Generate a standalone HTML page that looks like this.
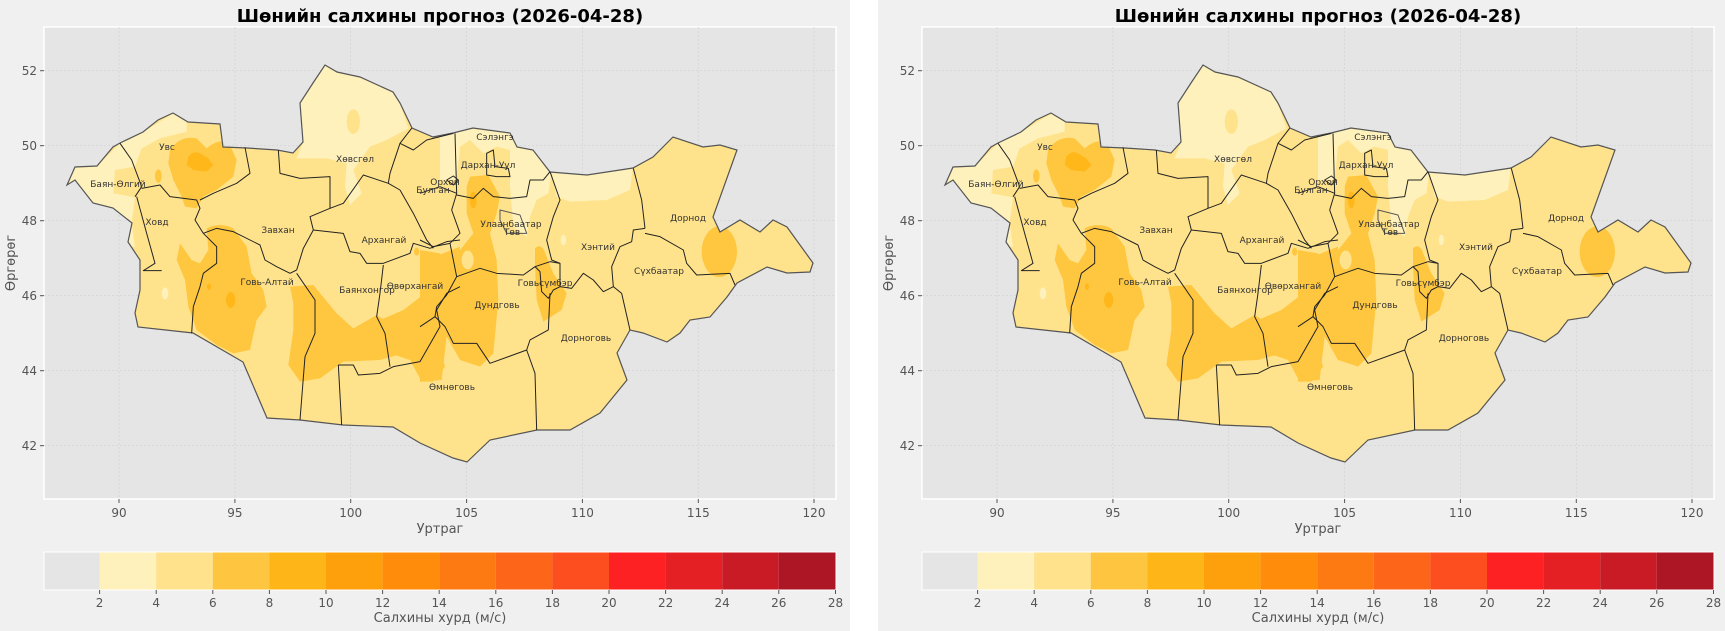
<!DOCTYPE html>
<html><head><meta charset="utf-8"><style>
html,body{margin:0;padding:0;background:#fff;}
svg{display:block;}
text{font-family:"DejaVu Sans","Liberation Sans",sans-serif;}
</style></head><body>
<svg width="1725" height="631" viewBox="0 0 1725 631" xmlns="http://www.w3.org/2000/svg" xmlns:xlink="http://www.w3.org/1999/xlink">
<defs>
<clipPath id="mn" clipPathUnits="userSpaceOnUse">
<polygon id="outlinePts" points="67,185 75,167 97,166 113,147 120,143 143,132 158,120 173,113 188,122 220,124 223,147 247,148 277,150 293,153 303,142 300,103 313,83 325,65 337,72 360,77 393,92 400,103 412,128 433,137 453,133 473,128 510,133 517,147 533,150 550,172 587,175 633,168 653,157 673,137 703,147 720,145 737,150 713,217 720,232 740,220 760,232 773,220 787,227 813,263 810,272 787,273 767,267 737,283 727,297 710,317 690,320 680,333 667,342 643,333 630,330 617,353 627,380 600,413 570,430 537,430 490,440 467,462 453,458 420,443 393,427 343,425 300,420 267,418 243,362 193,333 138,327 135,313 140,290 140,260 128,242 132,223 113,208 93,203 75,180"/>
</clipPath>
<g id="panel">
<rect x="0" y="0" width="850" height="631" fill="#f0f0f0"/>
<rect x="44" y="27" width="792" height="472" fill="#e5e5e5" stroke="#fff" stroke-width="1.5"/>
<g stroke="#d2d2d2" stroke-width="0.7" stroke-dasharray="2,2">
<line x1="119" y1="27" x2="119" y2="499"/><line x1="234.9" y1="27" x2="234.9" y2="499"/><line x1="350.7" y1="27" x2="350.7" y2="499"/><line x1="466.6" y1="27" x2="466.6" y2="499"/><line x1="582.4" y1="27" x2="582.4" y2="499"/><line x1="698.3" y1="27" x2="698.3" y2="499"/><line x1="814" y1="27" x2="814" y2="499"/>
<line x1="44" y1="70.7" x2="836" y2="70.7"/><line x1="44" y1="145.7" x2="836" y2="145.7"/><line x1="44" y1="220.7" x2="836" y2="220.7"/><line x1="44" y1="295.7" x2="836" y2="295.7"/><line x1="44" y1="370.7" x2="836" y2="370.7"/><line x1="44" y1="445.7" x2="836" y2="445.7"/>
</g>
<g clip-path="url(#mn)">
<rect x="40" y="40" width="800" height="450" fill="#ffe38c"/>
<g transform="translate(60,60) scale(0.33333)">
<path fill="#fff1bb" d="M22,375 L45,320 110,318 180,250 250,215 300,185 340,160 380,185 380,215 300,235 245,265 225,320 165,330 160,400 225,412 215,490 225,560 200,560 150,470 60,420 0,400Z"/>
<path fill="#fff1bb" d="M720,130 L760,70 795,15 830,35 900,50 1000,95 1020,130 1045,205 980,240 930,260 880,330 905,400 870,435 855,380 860,310 800,295 710,295 730,245Z"/>
<ellipse cx="880" cy="185" rx="20" ry="37" fill="#ffe38c"/>
<ellipse cx="315" cy="700" rx="10" ry="18" fill="#fff1bb"/>
<path fill="#ffc740" d="M330,270 Q360,225 410,235 L440,265 Q480,230 510,255 L530,300 520,350 470,390 430,410 410,445 375,440 365,410 340,360 325,310Z"/>
<ellipse cx="295" cy="348" rx="10" ry="20" fill="#ffc740"/>
<path fill="#ffb71a" d="M385,290 Q400,270 420,280 L445,295 460,315 440,335 400,330 380,315Z"/>
<path fill="#ffc740" d="M440,505 Q480,485 520,505 L560,560 575,640 610,690 620,740 590,780 570,870 520,880 470,855 410,810 385,740 375,660 350,600 360,550 395,600 420,610 445,570Z"/>
<ellipse cx="512" cy="720" rx="14" ry="24" fill="#ffb71a"/>
<ellipse cx="447" cy="680" rx="6" ry="10" fill="#ffb71a"/>
<path fill="#ffc740" d="M690,680 L760,675 830,760 880,805 950,765 990,790 1030,880 960,900 850,905 780,955 720,965 685,915 700,810 700,730Z"/>
<path fill="#ffc740" d="M1100,600 L1200,560 1200,900 1160,830 1145,960 1085,965 1050,900 990,880 960,780 1030,750 1095,700Z"/>
<ellipse cx="1070" cy="575" rx="8" ry="12" fill="#ffc740"/>
</g>
<g transform="translate(420,100) scale(0.33333)">
<path fill="#fff1bb" d="M60,80 L270,95 300,145 345,150 395,215 385,280 350,300 330,350 320,410 280,380 270,260 270,150 230,140 190,160 150,120 120,140 110,240 60,240Z"/>
<path fill="#fff1bb" d="M390,190 L640,190 630,270 560,300 450,305 410,290Z"/>
<ellipse cx="430" cy="420" rx="8" ry="16" fill="#fff1bb"/>
<path fill="#ffc740" d="M150,230 L205,225 240,290 230,340 210,400 230,480 235,600 220,760 180,800 120,780 105,720 60,700 45,640 50,560 90,510 120,450 160,400 140,340 140,260Z"/>
<ellipse cx="160" cy="300" rx="10" ry="25" fill="#ffb71a"/>
<ellipse cx="143" cy="480" rx="18" ry="28" fill="#ffe38c"/>
<path fill="#ffc740" d="M0,450 L60,460 100,540 80,600 50,700 75,800 40,845 0,845Z"/>
<path fill="#ffc740" d="M345,445 Q360,430 372,450 L400,520 440,580 425,630 370,665 350,600 345,500Z"/>
<ellipse cx="898" cy="455" rx="53" ry="76" fill="#ffc740"/>
</g>
</g>
<use xlink:href="#outlinePts" fill="none" stroke="#555" stroke-width="1.2"/>
<g fill="none" stroke="#222" stroke-width="1" stroke-linejoin="round">
<g transform="translate(60,60) scale(0.33333)">
<polyline vector-effect="non-scaling-stroke" points="180,250 215,300 245,380 225,410"/>
<polyline vector-effect="non-scaling-stroke" points="230,410 260,520 285,610 250,632 305,632"/>
<polyline vector-effect="non-scaling-stroke" points="245,385 300,375 330,410 410,420 420,445 405,480 430,520"/>
<polyline vector-effect="non-scaling-stroke" points="420,420 460,400 530,370 570,340 555,262"/>
<polyline vector-effect="non-scaling-stroke" points="430,520 470,560 470,610 430,640 420,680 400,740 395,820"/>
<polyline vector-effect="non-scaling-stroke" points="430,520 470,505 520,515 600,555 615,600 650,620 690,640 710,630"/>
<polyline vector-effect="non-scaling-stroke" points="655,270 660,340 720,355 810,350 810,445 850,430 910,345 940,355 985,370 990,340 1020,250 1055,205"/>
<polyline vector-effect="non-scaling-stroke" points="810,445 750,470 760,510 730,565 710,630"/>
<polyline vector-effect="non-scaling-stroke" points="710,640 765,720 765,820 735,890 720,1080"/>
<polyline vector-effect="non-scaling-stroke" points="760,510 850,520 870,575 900,580 920,610 970,610 1050,580 1060,550 1110,565 1160,545 1200,540"/>
<polyline vector-effect="non-scaling-stroke" points="970,615 960,700 950,770 975,820 990,920"/>
<polyline vector-effect="non-scaling-stroke" points="835,915 845,1095"/>
<polyline vector-effect="non-scaling-stroke" points="835,915 880,915 895,945 960,940 1000,920 1080,905 1140,800 1130,750 1160,700 1200,680"/>
<polyline vector-effect="non-scaling-stroke" points="985,370 1020,390 1060,460 1100,540 1120,565"/>
<polyline vector-effect="non-scaling-stroke" points="1020,250 1060,270 1100,240 1180,220"/>
</g>
<g transform="translate(420,100) scale(0.33333)">
<polyline vector-effect="non-scaling-stroke" points="105,100 110,280 95,330 120,400 90,430 110,530"/>
<polyline vector-effect="non-scaling-stroke" points="0,280 60,260 110,280"/>
<polyline vector-effect="non-scaling-stroke" points="0,420 40,440 90,430"/>
<polyline vector-effect="non-scaling-stroke" points="110,285 160,295 190,265 220,290 270,295 320,290 330,240 370,240 390,215"/>
<polyline vector-effect="non-scaling-stroke" points="390,215 420,300 400,350 380,420 395,480 420,490"/>
<polyline vector-effect="non-scaling-stroke" points="110,530 180,505 230,520 310,525 345,500 390,485"/>
<polyline vector-effect="non-scaling-stroke" points="345,500 360,515 365,575 385,595 400,570 420,560 420,490 390,485"/>
<polyline vector-effect="non-scaling-stroke" points="390,580 385,690 330,720 320,750"/>
<polyline vector-effect="non-scaling-stroke" points="320,750 210,790 170,730 100,730 75,680 45,650 50,620 80,585 110,530"/>
<polyline vector-effect="non-scaling-stroke" points="45,650 0,680"/>
<polyline vector-effect="non-scaling-stroke" points="320,750 345,820 350,990"/>
<polyline vector-effect="non-scaling-stroke" points="420,560 455,565 490,520 520,540 550,575 580,560"/>
<polyline vector-effect="non-scaling-stroke" points="580,560 575,500 600,440 635,425 640,390 675,385"/>
<polyline vector-effect="non-scaling-stroke" points="640,205 665,300 675,385"/>
<polyline vector-effect="non-scaling-stroke" points="675,400 720,410 790,450 800,490 830,525 930,520 945,555"/>
<polyline vector-effect="non-scaling-stroke" points="580,560 605,580 630,690"/>
<polygon vector-effect="non-scaling-stroke" points="200,160 220,150 225,200 265,205 270,230 230,230 200,225"/>
<polygon vector-effect="non-scaling-stroke" stroke="#555" points="240,330 300,345 320,400 260,400 240,360"/>
<polygon vector-effect="non-scaling-stroke" points="80,240 100,228 115,240 100,255"/>
</g>
</g>
<g font-size="9" fill="#333" text-anchor="middle">
<text x="167" y="150">Увс</text><text x="118" y="187">Баян-Өлгий</text><text x="157" y="225">Ховд</text><text x="278" y="233">Завхан</text><text x="267" y="285">Говь-Алтай</text><text x="355" y="162">Хөвсгөл</text><text x="433" y="193">Булган</text><text x="384" y="243">Архангай</text><text x="367" y="293">Баянхонгор</text><text x="415" y="289">Өвөрхангай</text><text x="452" y="390">Өмнөговь</text>
<text x="495" y="140">Сэлэнгэ</text><text x="488" y="168">Дархан-Уул</text><text x="445" y="185">Орхон</text><text x="511" y="227">Улаанбаатар</text><text x="512" y="235">Төв</text><text x="497" y="308">Дундговь</text><text x="545" y="286">Говьсүмбэр</text><text x="598" y="250">Хэнтий</text><text x="659" y="274">Сүхбаатар</text><text x="688" y="221">Дорнод</text><text x="586" y="341">Дорноговь</text>
</g>
<g stroke="#555" stroke-width="1">
<line x1="40" y1="70.7" x2="44" y2="70.7"/><line x1="40" y1="145.7" x2="44" y2="145.7"/><line x1="40" y1="220.7" x2="44" y2="220.7"/><line x1="40" y1="295.7" x2="44" y2="295.7"/><line x1="40" y1="370.7" x2="44" y2="370.7"/><line x1="40" y1="445.7" x2="44" y2="445.7"/>
<line x1="119" y1="499" x2="119" y2="503"/><line x1="234.9" y1="499" x2="234.9" y2="503"/><line x1="350.7" y1="499" x2="350.7" y2="503"/><line x1="466.6" y1="499" x2="466.6" y2="503"/><line x1="582.4" y1="499" x2="582.4" y2="503"/><line x1="698.3" y1="499" x2="698.3" y2="503"/><line x1="814" y1="499" x2="814" y2="503"/>
</g>
<g font-size="12" fill="#555" text-anchor="end">
<text x="37" y="75">52</text><text x="37" y="150">50</text><text x="37" y="225">48</text><text x="37" y="300">46</text><text x="37" y="375">44</text><text x="37" y="450">42</text>
</g>
<g font-size="12" fill="#555" text-anchor="middle">
<text x="119" y="517">90</text><text x="234.9" y="517">95</text><text x="350.7" y="517">100</text><text x="466.6" y="517">105</text><text x="582.4" y="517">110</text><text x="698.3" y="517">115</text><text x="814" y="517">120</text>
</g>
<text x="440" y="533" font-size="13" fill="#555" text-anchor="middle">Уртраг</text>
<text transform="translate(15,263) rotate(-90)" font-size="13" fill="#555" text-anchor="middle">Өргөрөг</text>
<text x="440" y="22" font-size="18" font-weight="bold" fill="#000" text-anchor="middle">Шөнийн салхины прогноз (2026-04-28)</text>
<g>
<rect x="44" y="552" width="55.6" height="38" fill="#e5e5e5"/>
<rect x="99.6" y="552" width="56.6" height="38" fill="#fff1bb"/>
<rect x="156.2" y="552" width="56.6" height="38" fill="#ffe28b"/>
<rect x="212.8" y="552" width="56.6" height="38" fill="#fec540"/>
<rect x="269.4" y="552" width="56.6" height="38" fill="#feb517"/>
<rect x="326" y="552" width="56.6" height="38" fill="#fea00c"/>
<rect x="382.6" y="552" width="56.6" height="38" fill="#ff8c0a"/>
<rect x="439.2" y="552" width="56.6" height="38" fill="#fd7912"/>
<rect x="495.8" y="552" width="56.6" height="38" fill="#fd6518"/>
<rect x="552.4" y="552" width="56.6" height="38" fill="#fc4e1e"/>
<rect x="609" y="552" width="56.6" height="38" fill="#fd2124"/>
<rect x="665.6" y="552" width="56.6" height="38" fill="#e52024"/>
<rect x="722.2" y="552" width="56.6" height="38" fill="#c91b25"/>
<rect x="778.8" y="552" width="57.2" height="38" fill="#ac1625"/>
<rect x="44" y="552" width="792" height="38" fill="none" stroke="#fff" stroke-width="1"/>
</g>
<g stroke="#555" stroke-width="1">
<line x1="99.6" y1="590" x2="99.6" y2="594"/><line x1="156.2" y1="590" x2="156.2" y2="594"/><line x1="212.8" y1="590" x2="212.8" y2="594"/><line x1="269.4" y1="590" x2="269.4" y2="594"/><line x1="326" y1="590" x2="326" y2="594"/><line x1="382.6" y1="590" x2="382.6" y2="594"/><line x1="439.2" y1="590" x2="439.2" y2="594"/><line x1="495.8" y1="590" x2="495.8" y2="594"/><line x1="552.4" y1="590" x2="552.4" y2="594"/><line x1="609" y1="590" x2="609" y2="594"/><line x1="665.6" y1="590" x2="665.6" y2="594"/><line x1="722.2" y1="590" x2="722.2" y2="594"/><line x1="778.8" y1="590" x2="778.8" y2="594"/><line x1="835.5" y1="590" x2="835.5" y2="594"/>
</g>
<g font-size="12" fill="#555" text-anchor="middle">
<text x="99.6" y="607">2</text><text x="156.2" y="607">4</text><text x="212.8" y="607">6</text><text x="269.4" y="607">8</text><text x="326" y="607">10</text><text x="382.6" y="607">12</text><text x="439.2" y="607">14</text><text x="495.8" y="607">16</text><text x="552.4" y="607">18</text><text x="609" y="607">20</text><text x="665.6" y="607">22</text><text x="722.2" y="607">24</text><text x="778.8" y="607">26</text><text x="835.5" y="607">28</text>
</g>
<text x="440" y="622" font-size="13" fill="#555" text-anchor="middle">Салхины хурд (м/с)</text>
</g>
</defs>
<rect width="1725" height="631" fill="#fff"/>
<use xlink:href="#panel" x="0" y="0"/>
<use xlink:href="#panel" x="878" y="0"/>
</svg>
</body></html>
